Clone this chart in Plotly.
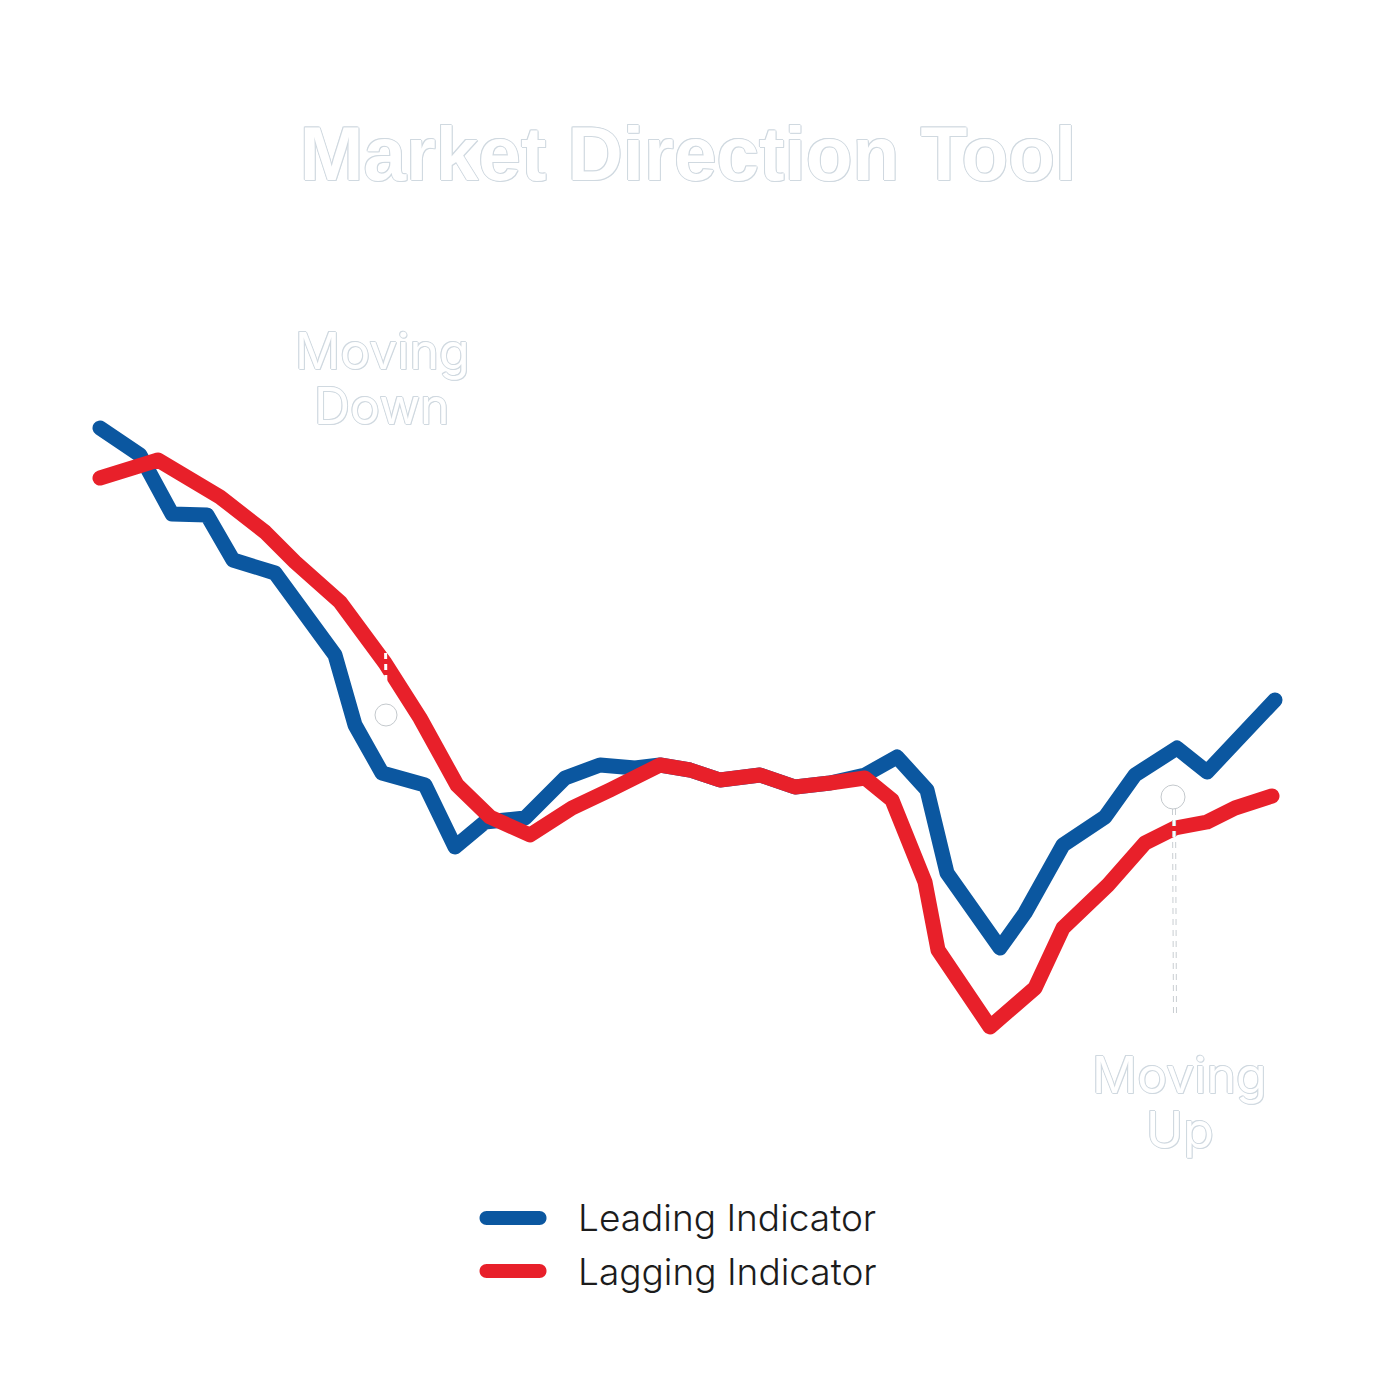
import plotly.graph_objects as go

# ---- data (x: time index, y: indicator level) ----
lead_x = [0, 8, 14.4, 21.4, 26.6, 35, 47, 51, 56.4, 65, 71, 77, 85, 93, 100, 107,
          112, 118, 124, 132, 139, 146, 153, 159.4, 165.4, 169.4, 180, 185, 192.6,
          201, 207, 215.4, 221.4, 228, 235]
lead_y = [134.4, 129, 117.2, 117, 108, 105.4, 89, 75, 65.4, 63, 50.6, 55.6, 56.4,
          64.4, 67, 66.4, 67, 66, 64, 65, 62.6, 63.4, 65, 68.6, 62, 45.4, 30.4,
          37.4, 51, 56.6, 65, 70.4, 65.6, 73, 80]

lag_x = [0, 11.6, 24, 33, 39, 48, 57, 64, 71.4, 78, 86, 94.4, 102, 112, 118, 124,
         132, 139, 146, 153, 158.4, 163, 165, 167.6, 178, 187, 192.6, 201.6, 209,
         215, 221.4, 227, 234.4]
lag_y = [124.4, 128, 120.6, 113.6, 107.6, 99.6, 87.4, 76.4, 63, 56.6, 53, 58.4, 62,
         67, 66, 64, 65, 62.6, 63.4, 64.4, 60, 48, 43.6, 30, 14.6, 22.4, 34.4, 43,
         51.4, 54.4, 55.6, 58.4, 60.8]

series_names = ["Leading Indicator", "Lagging Indicator"]
series_colors = ["#0b57a0", "#e8202a"]

title_text = "Market Direction Tool"
note_down = ["Moving", "Down"]
note_up = ["Moving", "Up"]
down_point = (57.2, 77.0)
up_point = (214.6, 60.6)

outline = "#d0d9e0"
shadow = (f"-1px 0 0 {outline}, 1px 0 0 {outline}, 0 -1px 0 {outline}, "
          f"0 1px 0 {outline}, -1px -1px 0 {outline}, 1px 1px 0 {outline}")

fig = go.Figure()
fig.add_trace(go.Scatter(x=lead_x, y=lead_y, mode="lines", name=series_names[0],
                         line=dict(color=series_colors[0], width=15),
                         hoverinfo="skip", showlegend=False))
fig.add_trace(go.Scatter(x=lag_x, y=lag_y, mode="lines", name=series_names[1],
                         line=dict(color=series_colors[1], width=15),
                         hoverinfo="skip", showlegend=False))

shapes = []
# connectors and markers for annotations
shapes.append(dict(type="line", xref="x", yref="y", x0=57.2, y0=79.4, x1=56.8, y1=133,
                   line=dict(color="white", width=3, dash="6px,5px"), layer="above"))
shapes.append(dict(type="line", xref="x", yref="y", x0=214.8, y0=58.2, x1=215, y1=16.6,
                   line=dict(color="#c9ced2", width=4, dash="6px,5px"), layer="above"))
shapes.append(dict(type="line", xref="x", yref="y", x0=214.8, y0=58.2, x1=215, y1=16.6,
                   line=dict(color="white", width=2, dash="6px,5px"), layer="above"))
for (px, py), r in ((down_point, 11), (up_point, 12)):
    shapes.append(dict(type="circle", xref="x", yref="y", xsizemode="pixel",
                       ysizemode="pixel", xanchor=px, yanchor=py, x0=-r, x1=r, y0=-r, y1=r,
                       fillcolor="white", line=dict(color="#c4c9cd", width=1),
                       layer="above"))

# manual legend swatches (stadium shapes)
def stadium(w, h):
    r = h / 2
    a = w / 2 - r
    k = 0.5523 * r
    return (f"M{-a},{-r} L{a},{-r} C{a + k},{-r} {a + r},{-k} {a + r},0 "
            f"C{a + r},{k} {a + k},{r} {a},{r} L{-a},{r} "
            f"C{-a - k},{r} {-a - r},{k} {-a - r},0 "
            f"C{-a - r},{-k} {-a - k},{-r} {-a},{-r} Z")

annotations = []
leg_rows = [-0.1388, -0.2012]
for name, col, yp in zip(series_names, series_colors, leg_rows):
    shapes.append(dict(type="path", xref="paper", yref="paper", xsizemode="pixel",
                       ysizemode="pixel", xanchor=0.3564, yanchor=yp,
                       path=stadium(67, 14), fillcolor=col, line=dict(width=0)))
    annotations.append(dict(text=name, xref="paper", yref="paper", x=0.4082, y=yp,
                            xanchor="left", yanchor="middle", showarrow=False,
                            font=dict(family="Inter", size=37, weight=300,
                                      color="#1c1c1c")))

note_font = dict(family="Inter", size=50, color="white", shadow=shadow)
for words, xc, ys in ((note_down, 0.2486, (0.8812, 0.8165)),
                      (note_up, 0.9053, (0.0294, -0.0353))):
    for w, yv in zip(words, ys):
        annotations.append(dict(text=w, xref="paper", yref="paper", x=xc, y=yv,
                                xanchor="center", yanchor="middle", showarrow=False,
                                font=note_font))

fig.update_layout(
    width=1400, height=1400,
    paper_bgcolor="white", plot_bgcolor="white",
    margin=dict(l=72, r=113, t=242, b=308),
    title=dict(text=title_text, x=0.4857, xanchor="center", y=0.8964, yanchor="middle",
               font=dict(family="Liberation Sans", size=76.5, color="white",
                         weight="bold", shadow=shadow)),
    xaxis=dict(range=[-4, 239], visible=False, fixedrange=True),
    yaxis=dict(range=[0, 170], visible=False, fixedrange=True),
    shapes=shapes, annotations=annotations,
    showlegend=False,
)

post = """
var gd = document.getElementById('{plot_id}');
function roundLines(){
  gd.querySelectorAll('.scatterlayer .js-line').forEach(function(p){
    p.style.strokeLinejoin = 'round'; p.style.strokeLinecap = 'round';
  });
}
roundLines();
gd.on('plotly_afterplot', roundLines);
"""

fig.write_html("out.html", post_script=post)
